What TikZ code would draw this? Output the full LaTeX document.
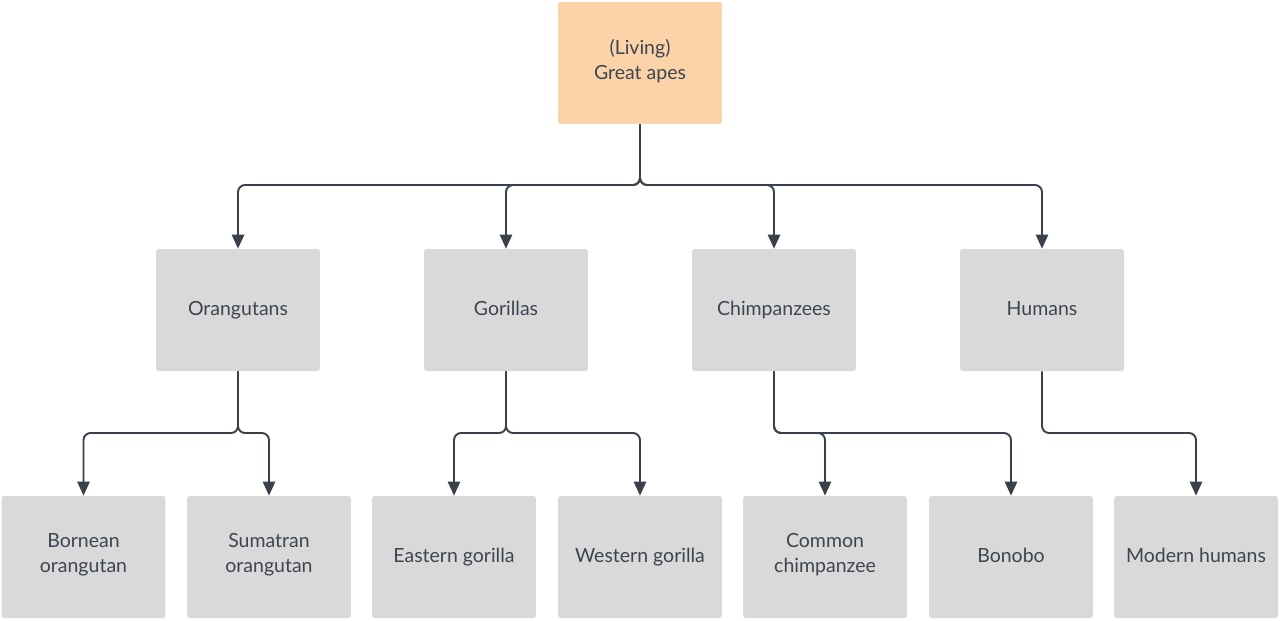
\documentclass[tikz,border=0pt]{standalone}
\usepackage{fontspec}
\setmainfont{Lato}
\usetikzlibrary{arrows.meta}

\definecolor{boxgray}{HTML}{D9D9D9}
\definecolor{boxpeach}{HTML}{FCD3A8}
\definecolor{inkgray}{HTML}{3D4550}
\definecolor{linegray}{HTML}{3A414A}

\tikzset{
  taxon/.style={fill=boxgray, rounded corners=1.5pt, minimum width=3.28cm, minimum height=2.44cm,
    align=center, text=inkgray, font=\fontsize{11.1}{14.2}\selectfont,
    execute at begin node=\strut, execute at end node=\strut},
  rootbox/.style={taxon, fill=boxpeach},
  branch/.style={draw=linegray, line width=1.1pt, rounded corners=4pt,
    -{Triangle[width=7pt, length=8pt]}}
}

\begin{document}
\begin{tikzpicture}[x=0.02cm, y=-0.02cm]
  \useasboundingbox (0,0) rectangle (1280,620);

  % Draw root
  \node[rootbox] (apes) at (640,63) {(Living)\\Great apes};

  % Draw genera
  \node[taxon] (orang) at (238,310) {Orangutans};
  \node[taxon] (goril) at (506,310) {Gorillas};
  \node[taxon] (chimp) at (774,310) {Chimpanzees};
  \node[taxon] (human) at (1042,310) {Humans};

  % Draw species
  \node[taxon] (born) at (83.5,557) {Bornean\\orangutan};
  \node[taxon] (suma) at (269,557) {Sumatran\\orangutan};
  \node[taxon] (east) at (454,557) {Eastern gorilla};
  \node[taxon] (west) at (640,557) {Western gorilla};
  \node[taxon] (comm) at (825,557) {Common\\chimpanzee};
  \node[taxon] (bono) at (1011,557) {Bonobo};
  \node[taxon] (mode) at (1196,557) {Modern humans};

  % Junction points
  \coordinate (j0) at (640,185);
  \coordinate (j1) at (238,433);
  \coordinate (j2) at (506,433);
  \coordinate (j3) at (774,433);
  \coordinate (j4) at (1042,433);

  % Connect root to genera
  \foreach \g in {orang,goril,chimp,human}
    \draw[branch] (apes.south) -- (j0) -| (\g.north);

  % Connect genera to species
  \draw[branch] (orang.south) -- (j1) -| (born.north);
  \draw[branch] (orang.south) -- (j1) -| (suma.north);
  \draw[branch] (goril.south) -- (j2) -| (east.north);
  \draw[branch] (goril.south) -- (j2) -| (west.north);
  \draw[branch] (chimp.south) -- (j3) -| (comm.north);
  \draw[branch] (chimp.south) -- (j3) -| (bono.north);
  \draw[branch] (human.south) -- (j4) -| (mode.north);
\end{tikzpicture}
\end{document}
